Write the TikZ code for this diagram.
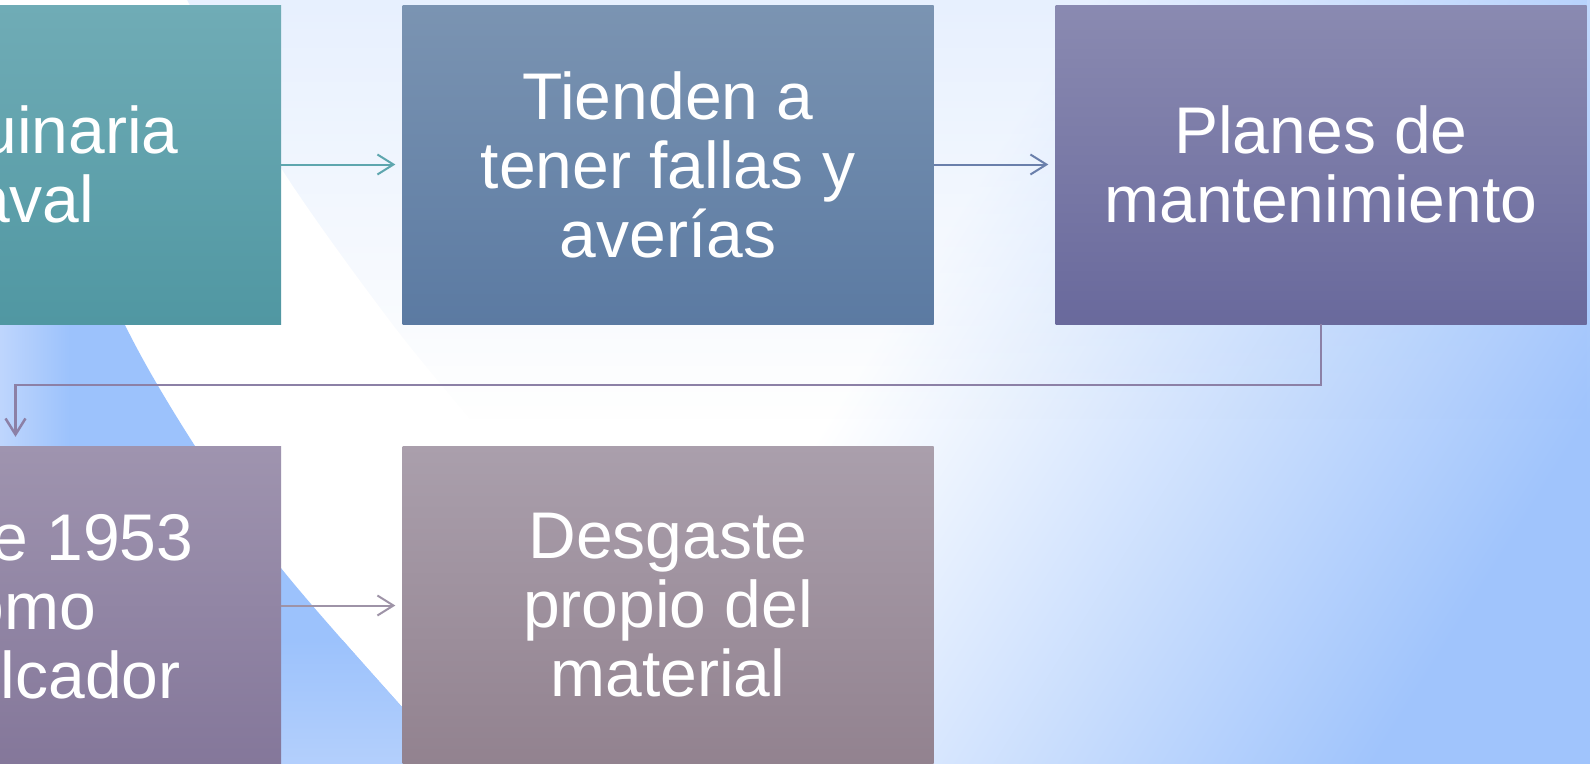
\documentclass[tikz,border=0pt]{standalone}
\usepackage{fontspec}
\setmainfont{Liberation Sans}
\usetikzlibrary{arrows.meta,fadings}

\definecolor{bgblue}{HTML}{A0C4FC}
\definecolor{swoosh}{HTML}{9CC2FC}
\definecolor{swooshlight}{HTML}{C8DBFD}
\definecolor{tealtop}{HTML}{70ACB6}
\definecolor{tealbot}{HTML}{5097A2}
\definecolor{steeltop}{HTML}{7B94B2}
\definecolor{steelbot}{HTML}{5B7AA2}
\definecolor{indigotop}{HTML}{8A8AB1}
\definecolor{indigobot}{HTML}{69699C}
\definecolor{mauvetop}{HTML}{9F94AF}
\definecolor{mauvebot}{HTML}{84779A}
\definecolor{greytop}{HTML}{AA9FAC}
\definecolor{greybot}{HTML}{92828F}
\definecolor{arrowteal}{HTML}{5EA6AE}
\definecolor{arrowsteel}{HTML}{6A7FAB}
\definecolor{arrowindigo}{HTML}{8C80A6}
\definecolor{arrowmauve}{HTML}{9E93A7}

\tikzset{
  stage/.style={inner sep=0pt, minimum width=531pt, minimum height=319pt,
    align=center, text=white, font=\fontsize{66}{69}\selectfont},
  flow/.style={line width=2pt, -{Straight Barb[length=16pt,width=20pt]}, shorten >=7pt}
}

\begin{document}
\begin{tikzpicture}[x=1pt,y=-1pt]
    \useasboundingbox (0,0) rectangle (1590,763);
    \clip (0,0) rectangle (1590,763);
    \begin{scope}[transform canvas={shift={(808,450)},rotate=-32}]
        \fill[white] (-3000,-3000) rectangle (100,3000);
        \fill[bgblue] (545,-3000) rectangle (3000,3000);
        \shade[left color=white, right color=bgblue] (0,-3000) rectangle (645,3000);
    \end{scope}
    \fill[bgblue, opacity=0.25, path fading=south] (0,0) rectangle (1590,420);
    \fill[white] plot[smooth] coordinates {(187,0) (281,168) (393,325) (493,446) (640,620) (760,780)}
        -- (-20,780) -- (-20,0) -- cycle;
    \begin{scope}
        \clip plot[smooth] coordinates {(-20,0) (50,150) (125,325) (195,446) (281,568) (402,707) (470,780)}
            -- (-20,780) -- cycle;
        \fill[swoosh] (-20,0) rectangle (600,780);
        \shade[left color=swooshlight, right color=swoosh] (-20,0) rectangle (70,780);
        \shade[top color=swoosh, bottom color=swooshlight!60!swoosh] (-20,640) rectangle (600,780);
    \end{scope}

    \node[stage, top color=tealtop, bottom color=tealbot] (maquinaria) at (15.5,164.5) {Maquinaria\\naval};
    \node[stage, top color=steeltop, bottom color=steelbot] (fallas) at (668,164.5) {Tienden a\\tener fallas y\\averías};
    \node[stage, top color=indigotop, bottom color=indigobot] (planes) at (1321,164.5) {Planes de\\mantenimiento};
    \node[stage, top color=mauvetop, bottom color=mauvebot] (remolcador) at (15.5,605.5) {Desde 1953\\como\\remolcador};
    \node[stage, top color=greytop, bottom color=greybot] (desgaste) at (668,605.5) {Desgaste\\propio del\\material};

    \draw[flow, arrowteal] (maquinaria) -- (fallas);
    \draw[flow, arrowsteel] (fallas) -- (planes);
    \draw[flow, arrowindigo, line width=2.5pt, shorten >=9pt] (planes.south) -- ++(0,61) -| (remolcador.north);
    \draw[flow, arrowmauve] (remolcador) -- (desgaste);
\end{tikzpicture}
\end{document}
